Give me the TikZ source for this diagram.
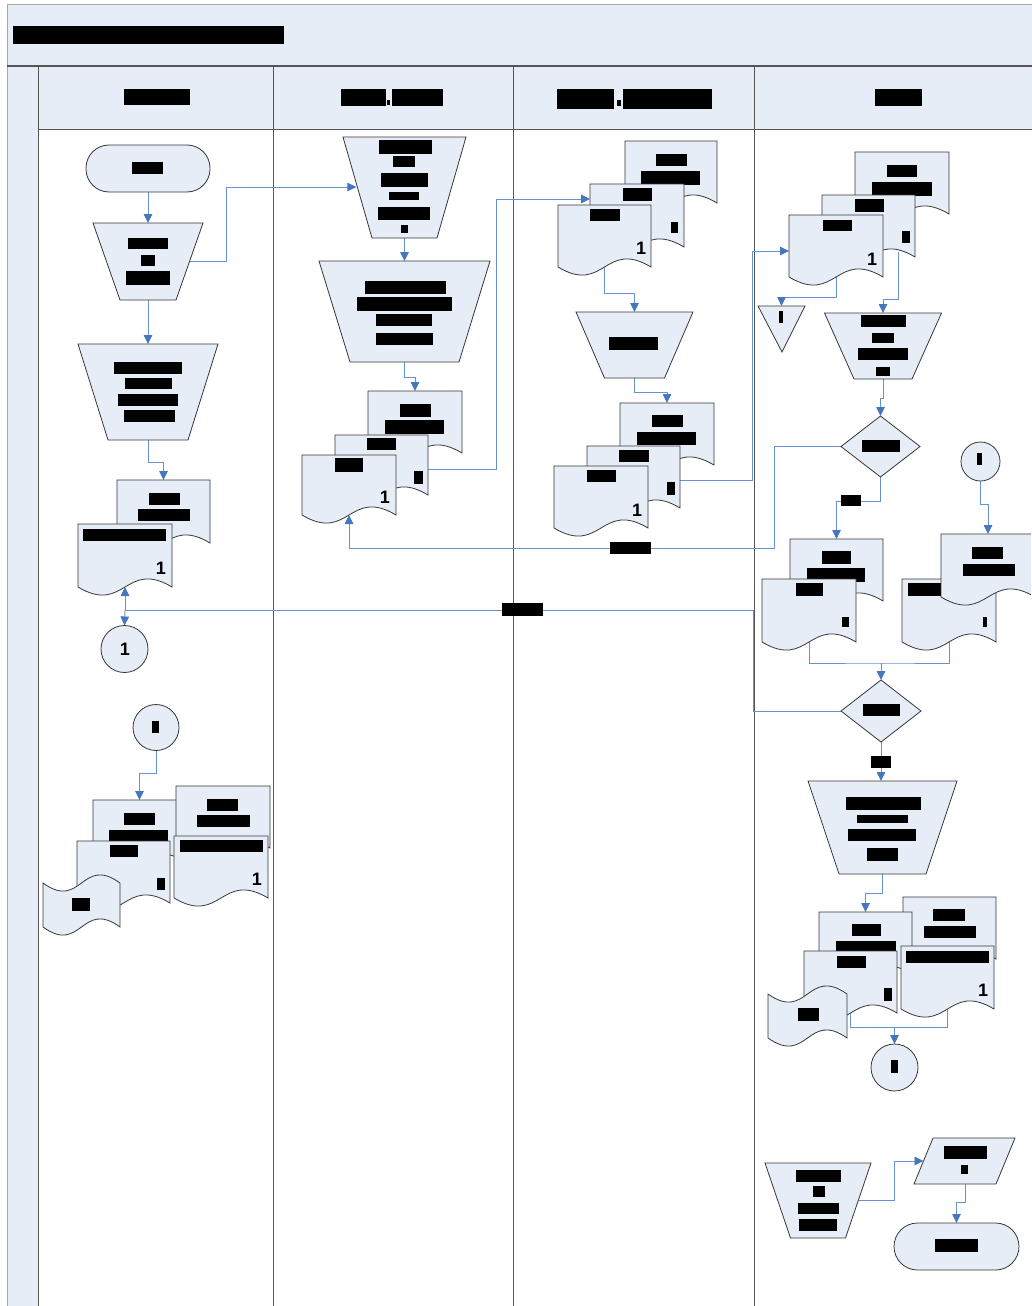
\documentclass[tikz,border=0pt]{standalone}
\usepackage{fontspec}
\usetikzlibrary{arrows.meta}
\newfontfamily\digitfont{Liberation Sans}
\definecolor{paleblue}{RGB}{230,237,247}
\definecolor{shapeline}{RGB}{55,55,55}
\definecolor{wireblue}{RGB}{104,145,208}
\definecolor{tipblue}{RGB}{70,118,192}
\definecolor{framegray}{RGB}{85,85,85}
\pgfdeclarelayer{frame}
\pgfdeclarelayer{wires}
\pgfsetlayers{frame,wires,main}

% blacked-out text block
\newcommand\redact[4]{\fill[black] (#1,#2) rectangle (#3,#4);}
% document: name, left, top, width, side height
\newcommand\docshape[5]{%
  \draw[shp] (#2,#3) -- ({#2+#4},#3) -- ({#2+#4},{#3+#5})
    .. controls ({#2+#4/2},{#3+#5-28}) and ({#2+#4/2},{#3+#5+28}) .. (#2,{#3+#5}) -- cycle;
  \coordinate (#1-n) at ({#2+#4/2},#3);
  \coordinate (#1-s) at ({#2+#4/2},{#3+#5});}
% punched tape: left, top, width, height
\newcommand\tapeshape[4]{%
  \draw[shp] (#1,#2) .. controls ({#1+#3/2},{#2+28}) and ({#1+#3/2},{#2-28}) .. ({#1+#3},#2)
    -- ({#1+#3},{#2+#4}) .. controls ({#1+#3/2},{#2+#4-28}) and ({#1+#3/2},{#2+#4+28}) .. (#1,{#2+#4}) -- cycle;}
% manual operation: name, centre x, top, bottom, half top width, half bottom width
\newcommand\manop[6]{%
  \draw[shp] ({#2-#5},#3) -- ({#2+#5},#3) -- ({#2+#6},#4) -- ({#2-#6},#4) -- cycle;
  \coordinate (#1-n) at (#2,#3);
  \coordinate (#1-s) at (#2,#4);}

\tikzset{
  shp/.style={draw=shapeline, fill=paleblue, line width=0.8pt},
  wire/.style={draw=wireblue, line width=0.9pt},
  arr/.style={wire, -{Triangle[length=9pt,width=8.5pt,color=tipblue]}},
  frameln/.style={draw=framegray, line width=1pt},
  digit/.style={font=\digitfont\bfseries\fontsize{18}{18}\selectfont, inner sep=0pt},
}

\begin{document}
\begin{tikzpicture}[x=1pt,y=-1pt]
\useasboundingbox (0,0) rectangle (1031,1306);
\clip (0,0) rectangle (1031,1306);

% ---------- pool, lanes and headers ----------
\begin{pgfonlayer}{frame}
  \fill[white] (0,0) rectangle (1031,1306);
  \fill[paleblue] (7,5) rectangle (1040,66);
  \fill[paleblue] (7,66) rectangle (38,1310);
  \fill[paleblue] (38,66) rectangle (1040,129);
  \draw[draw=black!35, line width=1pt] (7,1310) -- (7,5) -- (1040,5);
  \draw[frameln, line width=1.6pt] (7,66) -- (1040,66);
  \draw[frameln] (38,66) -- (38,1310);
  \draw[frameln] (273,66) -- (273,1310);
  \draw[frameln] (513,66) -- (513,1310);
  \draw[frameln] (754,66) -- (754,1310);
  \draw[frameln] (38,129) -- (1040,129);
\end{pgfonlayer}

\redact{13}{26}{284}{44}
\redact{124}{89}{190}{105}
\redact{341}{89}{386}{106}\redact{387}{100}{390}{105}\redact{392}{89}{443}{106}
\redact{557}{89}{614}{109}\redact{617}{100}{621}{106}\redact{623}{89}{712}{109}
\redact{875}{89}{922}{106}

% ---------- lane 1 ----------
\draw[shp, rounded corners=23pt] (86,145) rectangle (210,192);
\coordinate (st-s) at (148,192);
\redact{132}{162}{163}{174}

\manop{T1}{148}{223}{300}{55}{28}
\coordinate (T1-e) at (190,261);
\redact{128}{238}{168}{249}\redact{141}{255}{155}{266}\redact{126}{271}{170}{285}

\manop{T2}{148}{344}{440}{70}{40}
\redact{114}{362}{182}{374}\redact{125}{378}{172}{389}\redact{118}{394}{178}{406}\redact{124}{410}{175}{422}

\docshape{L1dB}{117}{480}{93}{63}
\redact{149}{493}{180}{505}\redact{138}{509}{190}{521}
\docshape{L1dF}{78}{524}{94}{63}
\redact{83}{529}{166}{541}
\node[digit] (one1) at (161,568) {1};

\draw[shp] (124.5,649) circle[radius=23.5pt];
\coordinate (C1-n) at (124.5,625.5);
\node[digit] (one2) at (125,649) {1};

\draw[shp] (156,727.5) circle[radius=23pt];
\coordinate (C2-s) at (156,750.5);
\redact{152}{721}{159}{733}

\docshape{L1cA}{93}{800}{93}{62}
\redact{124}{813}{155}{825}\redact{109}{830}{168}{842}
\docshape{L1cD}{176}{786}{94}{62}
\redact{207}{799}{238}{811}\redact{197}{815}{250}{827}
\docshape{L1cB}{77}{841}{93}{62}
\redact{110}{845}{138}{857}\redact{157}{878}{165}{890}
\tapeshape{43}{883}{77}{44}
\redact{72}{898}{90}{911}
\docshape{L1cE}{174}{836}{94}{62}
\redact{180}{840}{263}{852}
\node[digit] (one3) at (257,879) {1};

% ---------- lane 2 ----------
\manop{T3}{404.5}{137}{238}{61.5}{32.5}
\coordinate (T3-w) at (356.4,187);
\redact{379}{140}{432}{154}\redact{393}{156}{415}{167}\redact{381}{173}{428}{187}
\redact{389}{192}{419}{200}\redact{378}{207}{430}{220}\redact{401}{225}{408}{233}

\manop{T4}{404.5}{261}{362}{85.5}{54.5}
\redact{365}{281}{446}{294}\redact{357}{297}{452}{311}\redact{376}{314}{432}{326}\redact{376}{333}{433}{345}

\docshape{L2dB}{368}{391}{94}{62}
\redact{400}{404}{431}{417}\redact{385}{420}{444}{434}
\docshape{L2dM}{335}{435}{93}{60}
\coordinate (L2dM-e) at (428,469);
\redact{367}{438}{396}{450}\redact{414}{471}{423}{484}
\docshape{L2dF}{302}{455}{94}{60}
\redact{335}{458}{363}{472}
\node[digit] (one4) at (385,497) {1};

% ---------- lane 3 ----------
\docshape{L3aB}{625}{141}{92}{62}
\redact{656}{154}{687}{166}\redact{641}{171}{700}{185}
\docshape{L3aM}{590}{184}{94}{63}
\coordinate (L3aM-w) at (590,199);
\redact{623}{188}{652}{201}\redact{671}{222}{678}{233}
\docshape{L3aF}{558}{205}{93}{62}
\redact{590}{209}{620}{221}
\node[digit] (one5) at (641,248) {1};

\manop{T5}{634.5}{312}{378}{58.5}{30}
\redact{609}{337}{658}{350}

\docshape{L3bB}{620}{403}{94}{62}
\redact{652}{415}{683}{427}\redact{637}{432}{696}{445}
\docshape{L3bM}{587}{446}{93}{62}
\coordinate (L3bM-e) at (680,480);
\redact{619}{450}{649}{462}\redact{667}{482}{675}{495}
\docshape{L3bF}{554}{466}{94}{62}
\redact{587}{470}{616}{482}
\node[digit] (one6) at (637,510) {1};

% ---------- lane 4 ----------
\docshape{L4aB}{855}{152}{94}{62}
\redact{887}{165}{917}{177}\redact{872}{182}{932}{196}
\docshape{L4aM}{822}{195}{93}{62}
\coordinate (L4aM-o) at (898,252);
\redact{855}{199}{884}{212}\redact{902}{231}{910}{243}
\docshape{L4aF}{789}{215}{94}{62}
\coordinate (L4aF-w) at (789,251);
\redact{823}{220}{852}{231}
\node[digit] (one7) at (872,259) {1};

\draw[shp] (758,306) -- (805,306) -- (782,352) -- cycle;
\coordinate (Tri-n) at (781.5,306);
\redact{779}{311}{783}{323}

\manop{T6}{883}{313}{379}{58.5}{29}
\redact{861}{315}{906}{327}\redact{872}{333}{894}{343}\redact{858}{348}{908}{360}\redact{876}{367}{890}{376}

\draw[shp] (841,446.5) -- (880.5,416) -- (920,446.5) -- (880.5,477) -- cycle;
\coordinate (D1-n) at (880.5,416);
\coordinate (D1-s) at (880.5,477);
\coordinate (D1-w) at (841,446.5);
\redact{862}{440}{900}{452}

\draw[shp] (980.5,461.5) circle[radius=19.5pt];
\coordinate (C3-s) at (980.5,481);
\redact{977}{453}{982}{465}

\docshape{L4bB}{790}{539}{93}{62}
\redact{822}{551}{851}{564}\redact{807}{568}{865}{582}
\docshape{L4bF}{762}{579}{94}{63}
\redact{796}{583}{823}{596}\redact{842}{617}{849}{627}
\docshape{L4cB}{902}{579}{94}{63}
\redact{908}{583}{942}{596}\redact{983}{617}{987}{627}
\docshape{L4cF}{941}{534}{94}{63}
\redact{972}{547}{1003}{559}\redact{963}{564}{1015}{576}

\draw[shp] (841,711) -- (881,680) -- (921,711) -- (881,742) -- cycle;
\coordinate (D2-n) at (881,680);
\coordinate (D2-s) at (881,742);
\coordinate (D2-w) at (841,711);
\redact{863}{704}{900}{716}

\manop{T7}{882.5}{781}{874}{74.5}{43.5}
\redact{846}{797}{921}{810}\redact{857}{815}{908}{823}\redact{848}{829}{916}{841}\redact{867}{848}{898}{861}

\docshape{L4dD}{903}{897}{93}{62}
\redact{933}{909}{965}{921}\redact{924}{926}{976}{938}
\docshape{L4dA}{819}{912}{93}{62}
\redact{852}{924}{881}{936}\redact{836}{941}{896}{953}
\docshape{L4dB}{804}{951}{93}{62}
\redact{837}{956}{866}{968}\redact{884}{988}{892}{1001}
\tapeshape{768}{994}{79}{44}
\redact{798}{1008}{819}{1021}
\docshape{L4dE}{901}{946}{93}{63}
\redact{906}{951}{989}{963}
\node[digit] (one8) at (983,990) {1};

\draw[shp] (894.5,1067.5) circle[radius=23.5pt];
\coordinate (C4-n) at (894.5,1044);
\redact{891}{1060}{898}{1073}

\manop{T8}{818}{1163}{1238}{53}{27.5}
\coordinate (T8-e) at (859,1200);
\redact{796}{1170}{841}{1182}\redact{813}{1186}{825}{1197}\redact{798}{1203}{839}{1214}\redact{799}{1219}{837}{1231}

\draw[shp] (933,1138) -- (1015,1138) -- (996,1184) -- (914,1184) -- cycle;
\coordinate (Para-w) at (923.5,1161);
\coordinate (Para-s) at (965,1184);
\redact{944}{1146}{987}{1159}\redact{961}{1165}{968}{1174}

\draw[shp, rounded corners=23.5pt] (894,1223) rectangle (1019,1270);
\coordinate (End-n) at (956.5,1223);
\redact{935}{1239}{978}{1252}

% ---------- connector bends ----------
\coordinate (k1) at (226,187);
\coordinate (jg2) at (0,462);
\coordinate (j5) at (125,610);
\coordinate (k5) at (753,610);
\coordinate (jg6) at (0,773);
\coordinate (jg8) at (0,377);
\coordinate (k9) at (496,199);
\coordinate (jg10) at (0,293);
\coordinate (jg11) at (0,392);
\coordinate (k12) at (752,251);
\coordinate (jg13) at (0,297);
\coordinate (jg14) at (0,299);
\coordinate (jg15) at (0,398);
\coordinate (k16) at (774,548);
\coordinate (jg17) at (0,501);
\coordinate (jg18) at (0,504);
\coordinate (j19) at (881,663);
\coordinate (jg21) at (0,893);
\coordinate (j22) at (894.5,1027);
\coordinate (k23) at (894,1161);
\coordinate (jg24) at (0,1202);

% ---------- connectors ----------
\begin{pgfonlayer}{wires}
  \draw[arr] (st-s) -- (T1-n);
  \draw[arr] (T1-e) -| (k1) -- (T3-w);
  \draw[arr] (T1-s) -- (T2-n);
  \draw[arr] (T2-s) -- (T2-s |- jg2) -| (L1dB-n);
  \draw[wire] (D2-w) -| (k5) -- (j5);
  \draw[arr] (j5) -- (L1dF-s);
  \draw[arr] (j5) -- (C1-n);
  \draw[arr] (C2-s) -- (C2-s |- jg6) -| (L1cA-n);
  \draw[arr] (T3-s) -- (T4-n);
  \draw[arr] (T4-s) -- (T4-s |- jg8) -| (L2dB-n);
  \draw[arr] (L2dM-e) -| (k9) -- (L3aM-w);
  \draw[arr] (L3aF-s) -- (L3aF-s |- jg10) -| (T5-n);
  \draw[arr] (T5-s) -- (T5-s |- jg11) -| (L3bB-n);
  \draw[arr] (L3bM-e) -| (k12) -- (L4aF-w);
  \draw[arr] (L4aF-s) -- (L4aF-s |- jg13) -| (Tri-n);
  \draw[arr] (L4aM-o) -- (L4aM-o |- jg14) -| (T6-n);
  \draw[arr] (T6-s) -- (T6-s |- jg15) -| (D1-n);
  \draw[arr] (D1-w) -| (k16) -| (L2dF-s);
  \draw[arr] (D1-s) -- (D1-s |- jg17) -| (L4bB-n);
  \draw[arr] (C3-s) -- (C3-s |- jg18) -| (L4cF-n);
  \draw[wire] (L4bF-s) |- (j19) -| (L4cB-s);
  \draw[arr] (j19) -- (D2-n);
  \draw[arr] (D2-s) -- (D2-s |- T7-n);
  \draw[arr] (T7-s) -- (T7-s |- jg21) -| (L4dA-n);
  \draw[wire] (L4dB-s) |- (j22) -| (L4dE-s);
  \draw[arr] (j22) -- (C4-n);
  \draw[arr] (T8-e) -| (k23) -- (Para-w);
  \draw[arr] (Para-s) -- (Para-s |- jg24) -| (End-n);
\end{pgfonlayer}

% connector labels
\redact{610}{542}{651}{554}
\redact{502}{603}{543}{616}
\redact{841}{495}{861}{506}
\redact{871}{756}{891}{768}
\end{tikzpicture}
\end{document}
